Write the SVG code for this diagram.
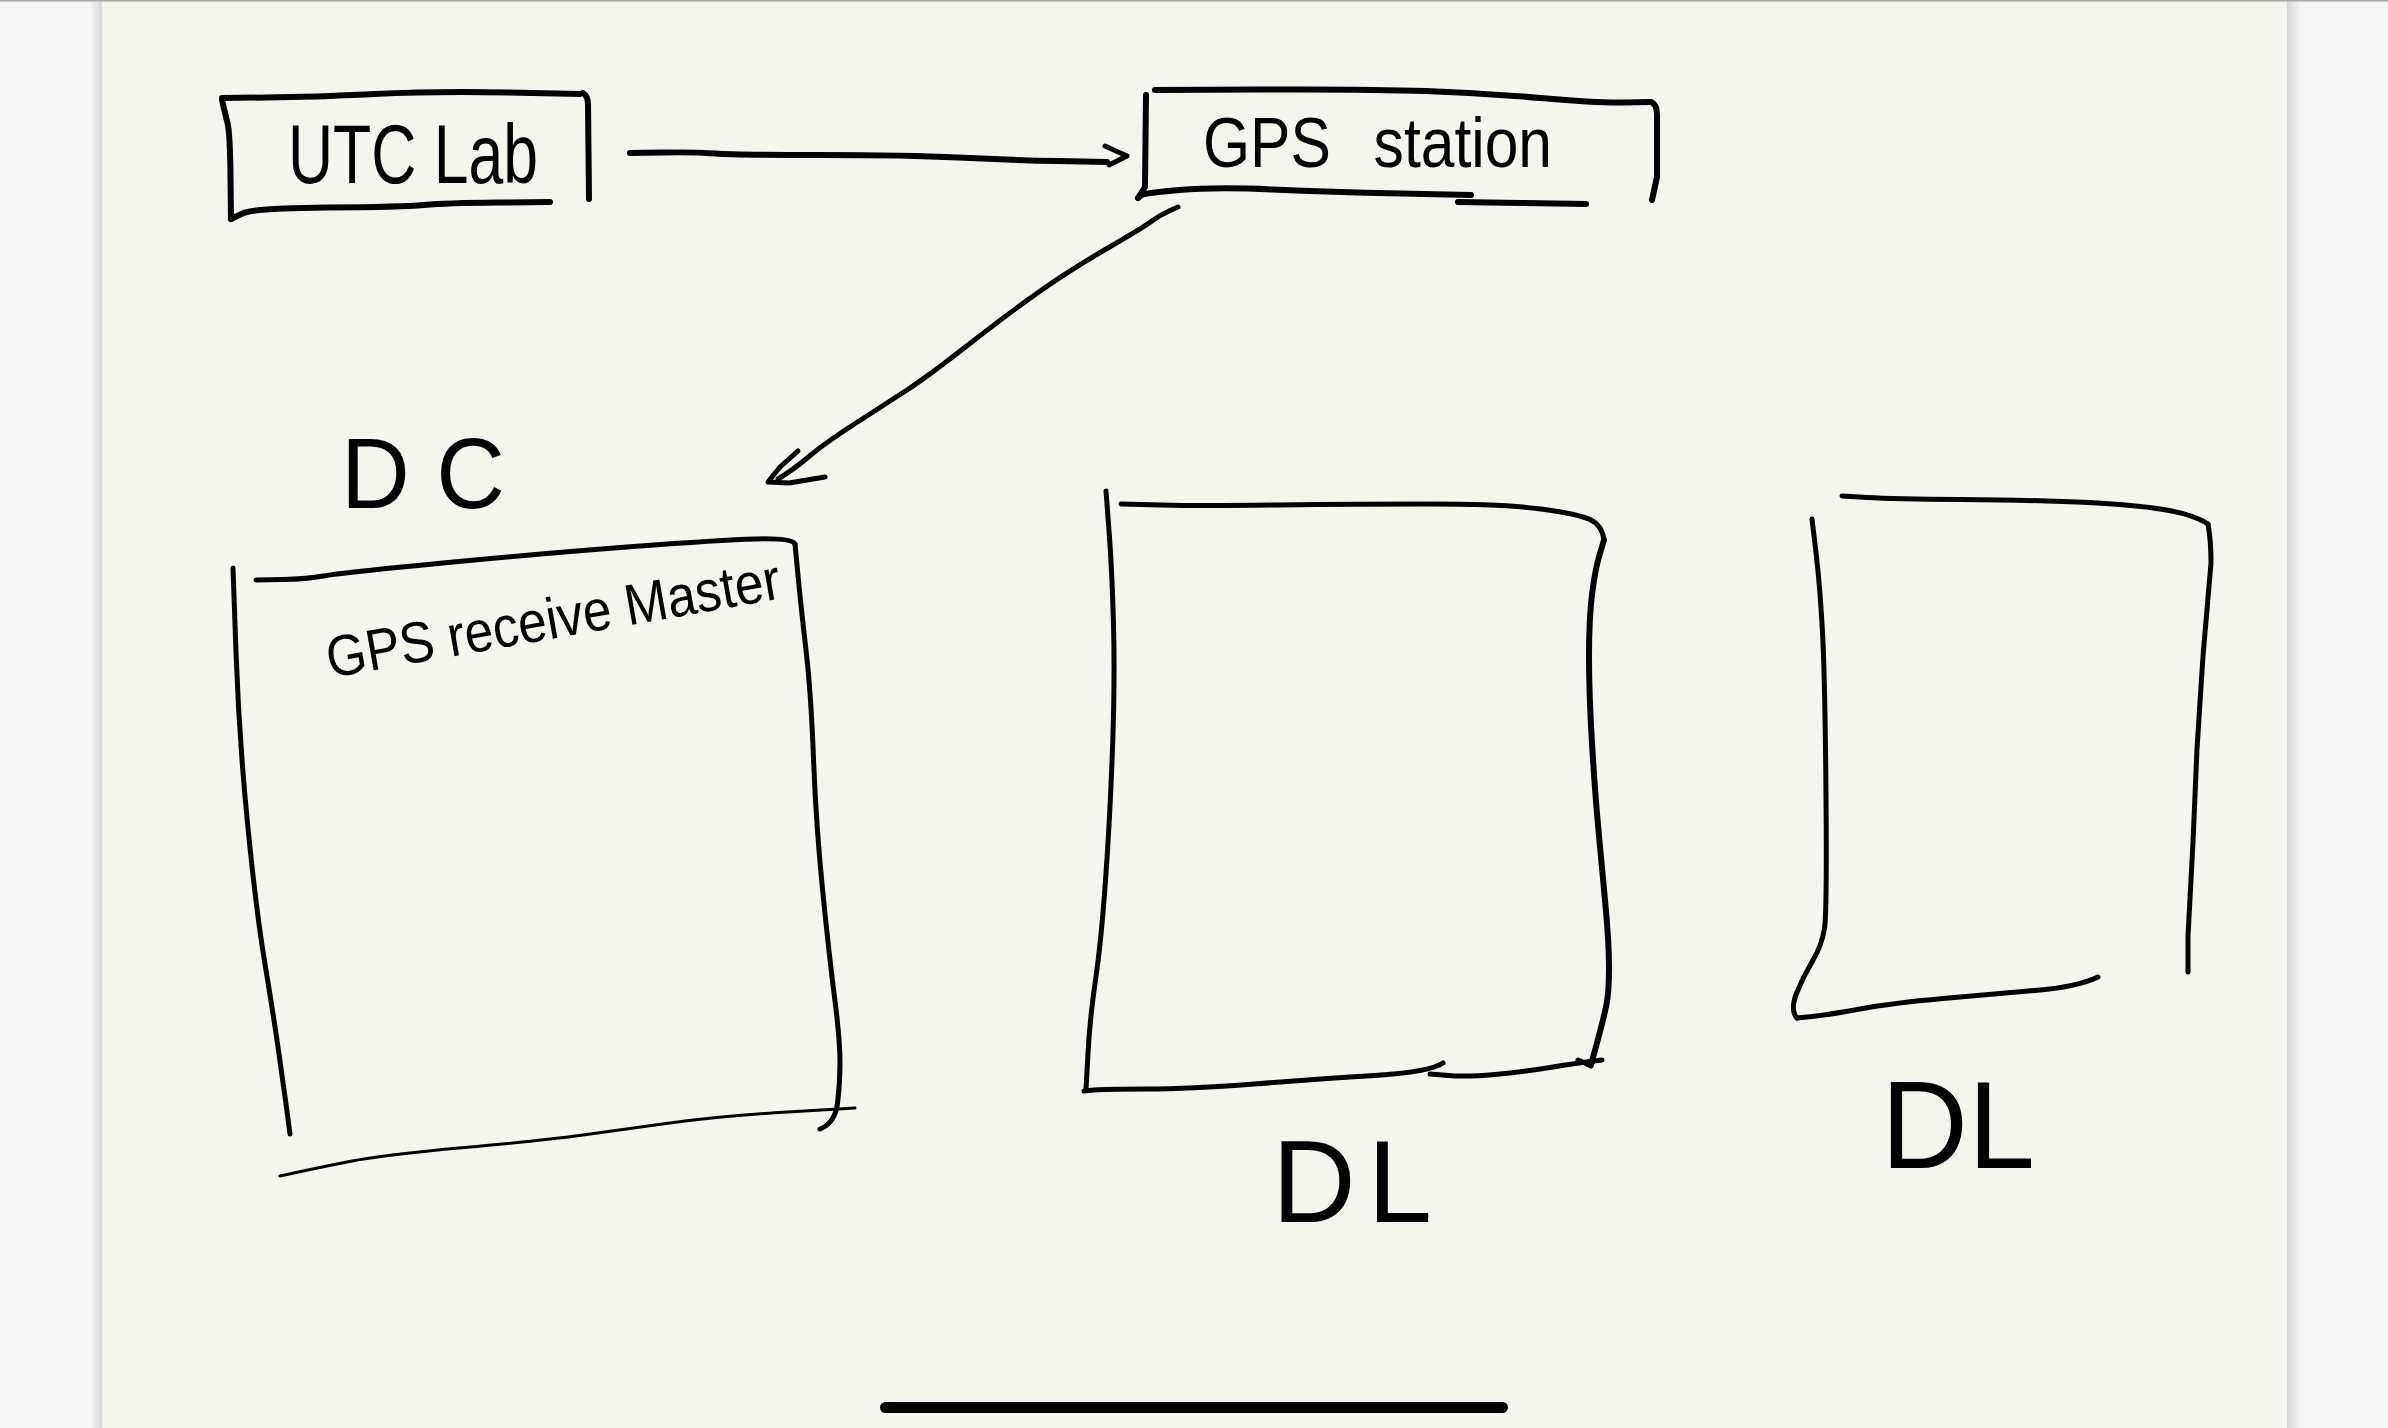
<svg xmlns="http://www.w3.org/2000/svg" width="2388" height="1428" viewBox="0 0 2388 1428">
<style>
.ink{fill:none;stroke:#000;stroke-linecap:round;stroke-linejoin:round}
.w5{stroke-width:6}
.w4{stroke-width:5}
.lbl{font-family:"Liberation Sans","DejaVu Sans",sans-serif;fill:#000}
</style>
<defs>
<linearGradient id="shL" x1="1" y1="0" x2="0" y2="0">
<stop offset="0" stop-color="#d8d8d8"/><stop offset="1" stop-color="#f6f6f6"/>
</linearGradient>
<linearGradient id="shR" x1="0" y1="0" x2="1" y2="0">
<stop offset="0" stop-color="#d8d8d8"/><stop offset="1" stop-color="#f6f6f6"/>
</linearGradient>
</defs>
<rect x="0" y="0" width="2388" height="1428" fill="#f6f6f6"/>
<rect x="90" y="0" width="12" height="1428" fill="url(#shL)"/>
<rect x="2287" y="0" width="14" height="1428" fill="url(#shR)"/>
<rect x="102" y="0" width="2185" height="1428" fill="#f5f5eb"/>
<rect x="0" y="0" width="2388" height="1.5" fill="#a8a8a8"/>

<g id="utc-lab">
<path class="ink w5" d="M222,98 L267,97.5 Q312,97 374.5,94 Q437,91 508.5,92.5 L580,94"/>
<path class="ink w5" d="M583,93 Q588,96 588,104 L589,199"/>
<path class="ink w5" d="M222,100 Q225,113 227.5,123 Q230,133 230.5,176 L231,219"/>
<path class="ink w5" d="M231,219 L242.5,213.5 Q254,208 328,207.5 Q402,207 424,205 Q446,203 498,202.5 L550,202"/>
<text class="lbl" x="288" y="183" font-size="84" textLength="250" lengthAdjust="spacingAndGlyphs">UTC Lab</text>
</g>

<g id="gps-station">
<path class="ink w5" d="M1155,90 L1261,89.5 Q1368,89 1425.5,91 Q1483,93 1540.5,98 Q1598,103 1624.5,102.5 L1651,102"/>
<path class="ink w5" d="M1651,102 Q1657,104 1657,115 L1657,177 L1652,200"/>
<path class="ink w5" d="M1146,95 L1145,187 L1138,198"/>
<path class="ink w5" d="M1138,198 L1141,195.5 Q1144,193 1179.5,190 Q1215,187 1272.5,189.5 Q1330,192 1400.5,193.5 L1471,195"/>
<path class="ink w5" d="M1458,202 L1521,203 L1586,204"/>
<text class="lbl" x="1203" y="167" font-size="70" word-spacing="30" textLength="349" lengthAdjust="spacingAndGlyphs">GPS station</text>
</g>

<g id="dc">
<text class="lbl" x="341" y="508" font-size="100" textLength="164" lengthAdjust="spacingAndGlyphs">D C</text>
<path class="ink w4" d="M233,568 L236,652 Q239,737 247.5,823 Q256,910 265,964 Q274,1019 278,1047 Q282,1075 286,1104 L290,1134"/>
<path class="ink w4" d="M256,580 L282,579.5 Q308,579 323.5,576 Q339,573 443,563 Q547,553 633.5,546.5 Q720,540 756,539 Q792,538 795,544"/>
<path class="ink w4" d="M795,544 L798,575.5 Q801,607 806,650 Q811,693 813.5,758.5 Q816,824 822.5,889 Q829,954 834.5,997 Q840,1040 840,1062 Q840,1084 837.5,1103.5 Q835,1123 820,1129"/>
<path class="ink" stroke-width="3" d="M280,1176 L298.5,1172 Q317,1168 349.5,1161.5 Q382,1155 464.5,1147.5 Q547,1140 579.5,1135.5 Q612,1131 666,1123.5 Q720,1116 787.5,1112 L855,1108"/>
<text class="lbl" x="330" y="678" font-size="58" textLength="460" lengthAdjust="spacingAndGlyphs" transform="rotate(-10 330 678)">GPS receive Master</text>
</g>

<g id="dl-1">
<path class="ink w4" d="M1106,491 L1109,530.5 Q1112,570 1113.5,624.5 Q1115,679 1112.5,748.5 Q1110,818 1105.5,880.5 Q1101,943 1095.5,980 Q1090,1017 1088,1053 L1086,1089"/>
<path class="ink w4" d="M1121,504 L1161,505 Q1201,506 1278.5,505 Q1356,504 1430,504 Q1504,504 1541,509 Q1578,514 1590,519.5 Q1602,525 1604,540"/>
<path class="ink w5" d="M1604,540 L1599.5,555 Q1595,570 1592,594.5 Q1589,619 1589,656.5 Q1589,694 1592,743.5 Q1595,793 1598.5,830.5 Q1602,868 1605.5,905.5 Q1609,943 1609,967.5 Q1609,992 1606.5,1004.5 Q1604,1017 1597.5,1041 L1591,1065"/>
<path class="ink w4" d="M1084,1091 L1094,1090 Q1104,1089 1146.5,1089 Q1189,1089 1254,1084 Q1319,1079 1374.5,1075.5 Q1430,1072 1443,1063"/>
<path class="ink w4" d="M1430,1074 L1448.5,1075.5 Q1467,1077 1494.5,1074.5 Q1522,1072 1550,1067.5 Q1578,1063 1602,1060"/>
<path class="ink w4" d="M1578,1060 L1591,1066"/>
<text class="lbl" x="1272" y="1222" font-size="116" textLength="160" lengthAdjust="spacing">DL</text>
</g>

<g id="dl-2">
<path class="ink w4" d="M1812,519 L1816,552.5 Q1820,586 1822.5,632.5 Q1825,679 1826,795.5 Q1827,912 1824.5,928.5 Q1822,945 1812.5,961 Q1803,977 1796.5,993.5 Q1790,1010 1797,1018"/>
<path class="ink w4" d="M1797,1018 L1812,1016.5 Q1827,1015 1860,1009 Q1893,1003 1943,998.5 Q1993,994 2035,990.5 Q2077,987 2098,977"/>
<path class="ink w4" d="M1842,496 L1867.5,497.5 Q1893,499 1960,499.5 Q2027,500 2077,502 Q2127,504 2160,509 Q2193,514 2208,524"/>
<path class="ink w4" d="M2208,524 Q2211,540 2211,563 Q2207,610 2203,656 L2197,749 L2193,842 L2188,936 L2188,972"/>
<text class="lbl" x="1881" y="1168" font-size="125" textLength="154" lengthAdjust="spacingAndGlyphs">DL</text>
</g>

<g id="connectors">
<path class="ink w5" d="M630,153 L662.5,152.5 Q695,152 715,153.5 Q735,155 821,155 Q907,155 958,157.5 Q1009,160 1058,161 L1107,162"/>
<path class="ink w4" d="M1105,146 L1127,156 L1109,165"/>
<path class="ink w4" d="M1178,207 L1169,211 Q1160,215 1152,221 Q1144,227 1107,248.5 Q1070,270 1039.5,291.5 Q1009,313 968,345 Q927,377 907,390 Q887,403 856,423 Q825,443 809,456.5 Q793,470 778,479"/>
<path class="ink w4" d="M798,451 L780,467 L768,482 L789,483 L825,477"/>
</g>

<rect x="880" y="1402" width="628" height="11" rx="5.5" fill="#000"/>
</svg>
